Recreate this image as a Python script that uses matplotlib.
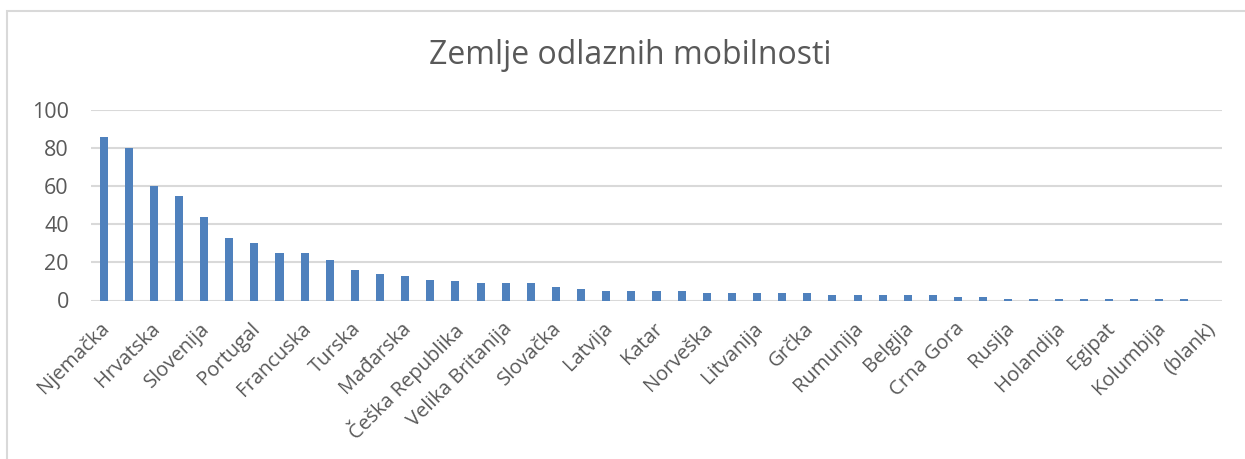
import matplotlib
matplotlib.use("Agg")
import matplotlib.pyplot as plt
from matplotlib.patches import Rectangle
from matplotlib.transforms import ScaledTranslation

TITLE = "Zemlje odlaznih mobilnosti"

# 45 categories, only every second one is labelled on the axis
values = [86, 80, 60, 55, 44, 33, 30, 25, 25, 21,
          16, 14, 13, 11, 10, 9, 9, 9, 7, 6,
          5, 5, 5, 5, 4, 4, 4, 4, 4, 3,
          3, 3, 3, 3, 2, 2, 1, 1, 1, 1,
          1, 1, 1, 1, 0]
shown_labels = ["Njemačka", "Hrvatska", "Slovenija", "Portugal", "Francuska",
                "Turska", "Mađarska", "Češka Republika", "Velika Britanija",
                "Slovačka", "Latvija", "Katar", "Norveška", "Litvanija", "Grčka",
                "Rumunija", "Belgija", "Crna Gora", "Rusija", "Holandija",
                "Egipat", "Kolumbija", "(blank)"]
yticks = [0, 20, 40, 60, 80, 100]

plt.rcParams['font.family'] = ['Open Sans', 'DejaVu Sans']
TEXT = '#595959'
GRID = '#D9D9D9'
BAR = '#4F81BD'

W, H = 1245, 459
fig = plt.figure(figsize=(W / 100, H / 100), dpi=100)

# chart frame (runs off the right and bottom edge like the screenshot)
fig.patches.append(Rectangle((6.5 / W, -0.1), 1.2, 1.1 - 11.5 / H,
                             transform=fig.transFigure, fill=False,
                             edgecolor=GRID, linewidth=1.5))

left, right = 91 / W, 1222 / W
top, bottom = 1 - 110 / H, 1 - 300.5 / H
ax = fig.add_axes([left, bottom, right - left, top - bottom])

x = list(range(len(values)))
ax.bar(x, values, width=0.32, color=BAR, zorder=3)

ax.set_xlim(-0.5, len(values) - 0.5)
ax.set_ylim(0, 100)
ax.set_yticks(yticks)
ax.yaxis.grid(True, color=GRID, linewidth=1.5, zorder=0)
ax.set_axisbelow(True)
for s in ax.spines.values():
    s.set_visible(False)

ax.tick_params(axis='y', length=0, pad=16, labelsize=15.5, labelcolor=TEXT)
ax.tick_params(axis='x', length=0, pad=13, labelsize=14.5, labelcolor=TEXT)
ax.set_xticks(x[::2])
ax.set_xticklabels(shown_labels, rotation=45, ha='right', va='top',
                   rotation_mode='anchor')
shift = ScaledTranslation(-4 / 100, 0, fig.dpi_scale_trans)
for lab in ax.get_xticklabels():
    lab.set_transform(lab.get_transform() + shift)

fig.text(0.506, 1 - 56 / H, TITLE, ha='center', va='center',
         fontsize=23, color=TEXT)

fig.savefig("out.png", dpi=100)
